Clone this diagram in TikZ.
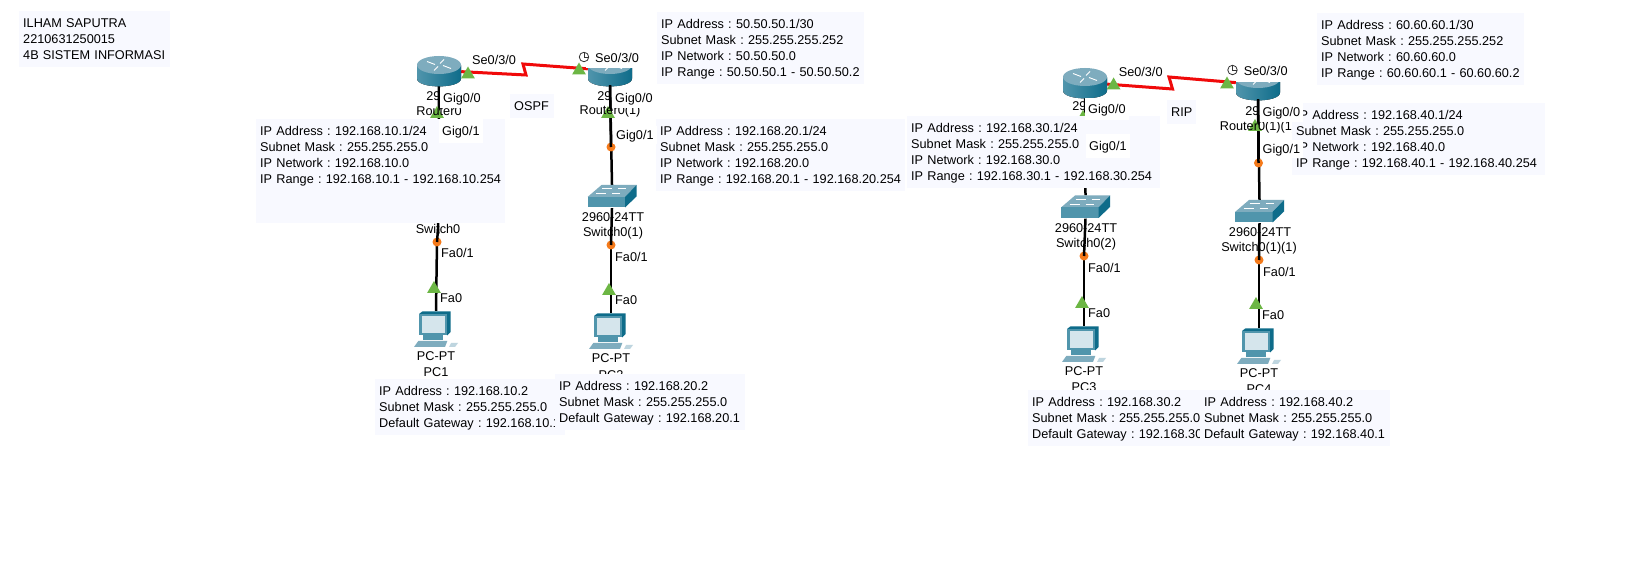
\documentclass[tikz,border=0pt]{standalone}
\usepackage{fontspec}
\setmainfont{Liberation Sans}
\usetikzlibrary{shapes.geometric,positioning,calc}
\definecolor{notefill}{RGB}{248,249,255}
\definecolor{tealdark}{RGB}{14,108,138}
\definecolor{tealmid}{RGB}{80,149,172}
\definecolor{teallight}{RGB}{126,172,190}
\definecolor{screenblue}{RGB}{213,229,236}
\definecolor{linkgreen}{RGB}{108,182,68}
\definecolor{linkorange}{RGB}{245,122,26}
\definecolor{wanred}{RGB}{240,10,10}

\begin{document}
\begin{tikzpicture}[
    x=1pt, y=-1pt,
    every node/.style={font=\fontsize{12.7}{16}\selectfont\frenchspacing},
    notebox/.style={rectangle, fill=notefill, anchor=north west, inner sep=4pt, align=left,
        execute at begin node={\rule{0pt}{12.6pt}}, execute at end node={\rule[-3.4pt]{0pt}{3.4pt}}},
    devlbl/.style={inner sep=0pt},
    portlbl/.style={anchor=west, inner xsep=3pt, inner ysep=0pt, text height=10.5pt, text depth=1.5pt},
    portcover/.style={portlbl, fill=white},
    iconbox/.style={rectangle, inner sep=0pt, minimum width=#1},
    lanlink/.style={line width=2.5pt, black},
    wanlink/.style={line width=3pt, wanred},
    portup/.style={regular polygon, regular polygon sides=3, fill=linkgreen, inner sep=0pt, minimum size=16pt},
    portwait/.style={circle, fill=linkorange, inner sep=0pt, minimum size=9pt},
    clockicon/.style={circle, draw=black!80, fill=white, line width=0.8pt, inner sep=0pt, minimum size=9.5pt,
        path picture={\draw[line width=0.7pt] (path picture bounding box.north) -- (path picture bounding box.center) -- (path picture bounding box.east);}},
    pics/routericon/.style={code={
        \fill[left color=tealmid, middle color=white, right color=tealdark]
            (-22,-5) -- (-22,8) .. controls (-22,18.5) and (22,18.5) .. (22,8) -- (22,-5) -- cycle;
        \fill[teallight] (0,-5.5) ellipse [x radius=22, y radius=9];
        \draw[white, line width=0.9pt] (-12,-9) -- (-4,-6) (12,-2) -- (4,-5) (5,-11) -- (1,-7) (-5,0) -- (-1,-4);
    }},
    pics/switchicon/.style={code={
        \fill[teallight] (-24.5,0.5) -- (13,0.5) -- (24.5,-11.5) -- (-10.5,-11.5) -- cycle;
        \fill[tealmid] (-24.5,0.5) rectangle (13,11);
        \fill[tealdark] (13,0.5) -- (24.5,-11.5) -- (24.5,0) -- (13,11) -- cycle;
        \draw[white, line width=0.6pt] (-10,-8) -- (0,-8) (6,-8) -- (14,-8) (-16,-3) -- (-6,-3) (0,-3) -- (8,-3);
    }},
    pics/pcicon/.style={code={
        \fill[tealdark] (-16.7,-15.3) -- (-13.4,-17.7) -- (14.7,-17.7) -- (14.7,3) -- (11.3,6.3) -- cycle;
        \fill[tealmid] (-16.7,-15.3) rectangle (11.3,6.3);
        \fill[screenblue] (-13.7,-12.7) rectangle (9,3.7);
        \fill[tealmid] (-12.7,6.3) rectangle (7.3,10.7);
        \fill[teallight] (-22,18) -- (-17.7,12) -- (11.3,12) -- (9,18) -- cycle;
        \fill[teallight!50] (13,18) -- (15,14) -- (22,14) -- (19,18) -- cycle;
    }}
]
    \path[use as bounding box, fill=white] (0,0) rectangle (1626,577);

    % device captions
    \node[devlbl] (cap2911a) at (440,96) {2911};
    \node[devlbl] (cap2911b) at (611,96) {2911};
    \node[devlbl] (cap2911c) at (1086,106) {2911};
    \node[devlbl] (cap2911d) at (1259,111) {2911};
    \node[devlbl] (switch0) at (438,229) {Switch0};
    \node[devlbl] (cap2960a) at (613,217) {2960-24TT};
    \node[devlbl] (capsw1) at (613,233) {Switch0(1)};
    \node[devlbl] (cap2960b) at (1086,228) {2960-24TT};
    \node[devlbl] (capsw2) at (1086,244) {Switch0(2)};
    \node[devlbl] (cap2960c) at (1260,232) {2960-24TT};
    \node[devlbl] (capsw3) at (1259,248) {Switch0(1)(1)};
    \node[devlbl] (cappc1a) at (436,356) {PC-PT};
    \node[devlbl] (cappc1b) at (436,372) {PC1};
    \node[devlbl] (cappc2a) at (611,358) {PC-PT};
    \node[devlbl] (cappc2b) at (611,375) {PC2};
    \node[devlbl] (cappc3a) at (1084,371) {PC-PT};
    \node[devlbl] (cappc3b) at (1084,387) {PC3};
    \node[devlbl] (cappc4a) at (1259,373) {PC-PT};
    \node[devlbl] (cappc4b) at (1259,389) {PC4};

    % icon anchors
    \node[iconbox=44pt, minimum height=29pt] (router0) at (439,70.5) {};
    \node[iconbox=44pt, minimum height=29pt] (router1) at (610,70.5) {};
    \node[iconbox=44pt, minimum height=29pt] (router2) at (1085,82.5) {};
    \node[iconbox=44pt, minimum height=29pt] (router3) at (1258,84.5) {};
    \node[iconbox=49pt, minimum height=23pt] (switch1) at (612,196.5) {};
    \node[iconbox=49pt, minimum height=23pt] (switch2) at (1085.5,207) {};
    \node[iconbox=49pt, minimum height=23pt] (switch3) at (1259.5,211.5) {};
    \node[iconbox=44pt, minimum height=36pt] (pc1) at (436,329) {};
    \node[iconbox=44pt, minimum height=36pt] (pc2) at (611,331) {};
    \node[iconbox=44pt, minimum height=36pt] (pc3) at (1084,344) {};
    \node[iconbox=44pt, minimum height=36pt] (pc4) at (1259,346) {};

    \coordinate (lightr1) at (611,147);
    \coordinate (lightsw1) at (611,245);
    \coordinate (lightsw0) at (437,242);
    \coordinate (lightsw2) at (1084,256);
    \coordinate (lightr3) at (1258.5,163);
    \coordinate (lightsw3) at (1259,260);
    \coordinate (zigA) at (526,75);
    \coordinate (zigB) at (523,64);
    \coordinate (zigC) at (1172.5,89);
    \coordinate (zigD) at (1169,77);

    % links
    \draw[lanlink] (router0.south) -- (switch0.south);
    \draw[lanlink] (router1.south) -- (switch1.north);
    \draw[lanlink] (router2.south) -- (switch2.north);
    \draw[lanlink] (router3.south) -- (switch3.north);
    \draw[lanlink] (lightsw0) -- (pc1.north);
    \draw[lanlink] (lightsw1) -- (pc2.north);
    \draw[lanlink] (lightsw2) -- (pc3.north);
    \draw[lanlink] (lightsw3) -- (pc4.north);
    \draw[wanlink] (router0) -- (zigA) -- (zigB) -- (router1);
    \draw[wanlink] (router2) -- (zigC) -- (zigD) -- (router3);

    \pic at (router0) {routericon};
    \pic at (router1) {routericon};
    \pic at (router2) {routericon};
    \pic at (router3) {routericon};
    \pic at (switch1) {switchicon};
    \pic at (switch2) {switchicon};
    \pic at (switch3) {switchicon};
    \pic at (pc1) {pcicon};
    \pic at (pc2) {pcicon};
    \pic at (pc3) {pcicon};
    \pic at (pc4) {pcicon};

    % link lights
    \node[portwait] (ledsw0) at (lightsw0) {};
    \node[portwait] (ledsw1) at (lightsw1) {};
    \node[portwait] (ledr1) at (lightr1) {};
    \node[portwait] (ledsw2) at (lightsw2) {};
    \node[portwait] (ledr3) at (lightr3) {};
    \node[portwait] (ledsw3) at (lightsw3) {};
    \draw[lanlink] (router1.south) -- (ledr1.center);
    \draw[lanlink] (router3.south) -- (ledr3.center);
    \draw[lanlink] (switch1.south) -- (ledsw1.center);
    \draw[lanlink] (switch2.south) -- (ledsw2.center);
    \draw[lanlink] (switch3.south) -- (ledsw3.center);
    \draw[lanlink] (switch0.center) -- (ledsw0.center);

    \node[portup] (upr0w) at (468,74.5) {};
    \node[portup] (upr1w) at (579,70.5) {};
    \node[portup] (upr2w) at (1113.6,85.5) {};
    \node[portup] (upr3w) at (1227,84.5) {};
    \node[portup] (upr0) at (437,114) {};
    \node[portup] (upr1) at (608,114) {};
    \node[portup] (upr2) at (1083,118) {};
    \node[portup] (upr3) at (1255,127) {};
    \node[portup] (uppc1) at (434,289) {};
    \node[portup] (uppc2) at (609,291) {};
    \node[portup] (uppc3) at (1082,304) {};
    \node[portup] (uppc4) at (1256,305) {};

    % router names sit over the lights
    \node[devlbl] (capr0) at (439,111) {Router0};
    \node[devlbl] (capr1) at (610,111) {Router0(1)};
    \node[devlbl] (capr3) at (1258,127) {Router0(1)(1)};

    % addressing notes
    \node[notebox, text width=143pt] (noteme) at (19,11) {ILHAM SAPUTRA\\2210631250015\\\mbox{4B SISTEM INFORMASI}};
    \node[notebox, text width=241pt] (note10) at (256,119)
        {IP Address : 192.168.10.1/24\\Subnet Mask : 255.255.255.0\\IP Network : 192.168.10.0\\\mbox{IP Range : 192.168.10.1 - 192.168.10.254}\\[16pt]\mbox{}};
    \node[notebox, text width=36pt] (noteospf) at (510,94) {OSPF};
    \node[notebox, text width=199pt] (note50) at (657,12)
        {IP Address : 50.50.50.1/30\\Subnet Mask : 255.255.255.252\\IP Network : 50.50.50.0\\\mbox{IP Range : 50.50.50.1 - 50.50.50.2}};
    \node[notebox, text width=241pt] (note20) at (656,119)
        {IP Address : 192.168.20.1/24\\Subnet Mask : 255.255.255.0\\IP Network : 192.168.20.0\\\mbox{IP Range : 192.168.20.1 - 192.168.20.254}};
    \node[notebox, text width=182pt] (notepc1) at (375,379)
        {IP Address : 192.168.10.2\\Subnet Mask : 255.255.255.0\\\mbox{Default Gateway : 192.168.10.1}};
    \node[notebox, text width=182pt] (notepc2) at (555,374)
        {IP Address : 192.168.20.2\\Subnet Mask : 255.255.255.0\\\mbox{Default Gateway : 192.168.20.1}};
    \node[notebox, text width=245pt] (note30) at (907,116)
        {IP Address : 192.168.30.1/24\\Subnet Mask : 255.255.255.0\\IP Network : 192.168.30.0\\\mbox{IP Range : 192.168.30.1 - 192.168.30.254}};
    \node[notebox, text width=21pt] (noterip) at (1167,100) {RIP};
    \node[notebox, text width=199pt] (note60) at (1317,13)
        {IP Address : 60.60.60.1/30\\Subnet Mask : 255.255.255.252\\IP Network : 60.60.60.0\\\mbox{IP Range : 60.60.60.1 - 60.60.60.2}};
    \node[notebox, text width=245pt] (note40) at (1292,103)
        {IP Address : 192.168.40.1/24\\Subnet Mask : 255.255.255.0\\IP Network : 192.168.40.0\\\mbox{IP Range : 192.168.40.1 - 192.168.40.254}};
    \node[notebox, text width=182pt] (notepc3) at (1028,390)
        {IP Address : 192.168.30.2\\Subnet Mask : 255.255.255.0\\\mbox{Default Gateway : 192.168.30.1}};
    \node[notebox, text width=182pt] (notepc4) at (1200,390)
        {IP Address : 192.168.40.2\\Subnet Mask : 255.255.255.0\\\mbox{Default Gateway : 192.168.40.1}};

    % port labels
    \node[portlbl] (ser0) at (469,60) {Se0/3/0};
    \node[portcover, minimum height=20pt] (ser1) at (586,58) {\hspace*{6pt}Se0/3/0};
    \node[clockicon] (clock1) at (584,57) {};
    \node[portlbl] (ser2) at (1115.6,72) {Se0/3/0};
    \node[portcover, minimum height=22pt] (ser3) at (1236,71) {\hspace*{4.6pt}Se0/3/0};
    \node[clockicon] (clock3) at (1232.5,70) {};
    \node[portcover, minimum height=20pt] (gigr0a) at (440,98) {Gig0/0};
    \node[portcover, minimum height=24pt] (gigr0b) at (439,131) {Gig0/1};
    \node[portcover, minimum height=20pt] (gigr1a) at (612,98) {Gig0/0};
    \node[portcover, minimum height=18pt] (gigr1b) at (613,135) {Gig0/1};
    \node[portcover, minimum height=22pt] (gigr2a) at (1085,109) {Gig0/0};
    \node[portcover, minimum height=24pt] (gigr2b) at (1086,146) {Gig0/1};
    \node[portcover, minimum height=20pt] (gigr3a) at (1259.5,112) {Gig0/0};
    \node[portcover, minimum height=18pt] (gigr3b) at (1259.5,149) {Gig0/1};
    \node[portlbl] (fasw0) at (438,253) {Fa0/1};
    \node[portlbl] (fasw1) at (612,257) {Fa0/1};
    \node[portlbl] (fasw2) at (1085,268) {Fa0/1};
    \node[portlbl] (fasw3) at (1260,272) {Fa0/1};
    \node[portlbl] (fapc1) at (437,298) {Fa0};
    \node[portlbl] (fapc2) at (612,300) {Fa0};
    \node[portlbl] (fapc3) at (1085,313) {Fa0};
    \node[portlbl] (fapc4) at (1259,315) {Fa0};
\end{tikzpicture}
\end{document}
